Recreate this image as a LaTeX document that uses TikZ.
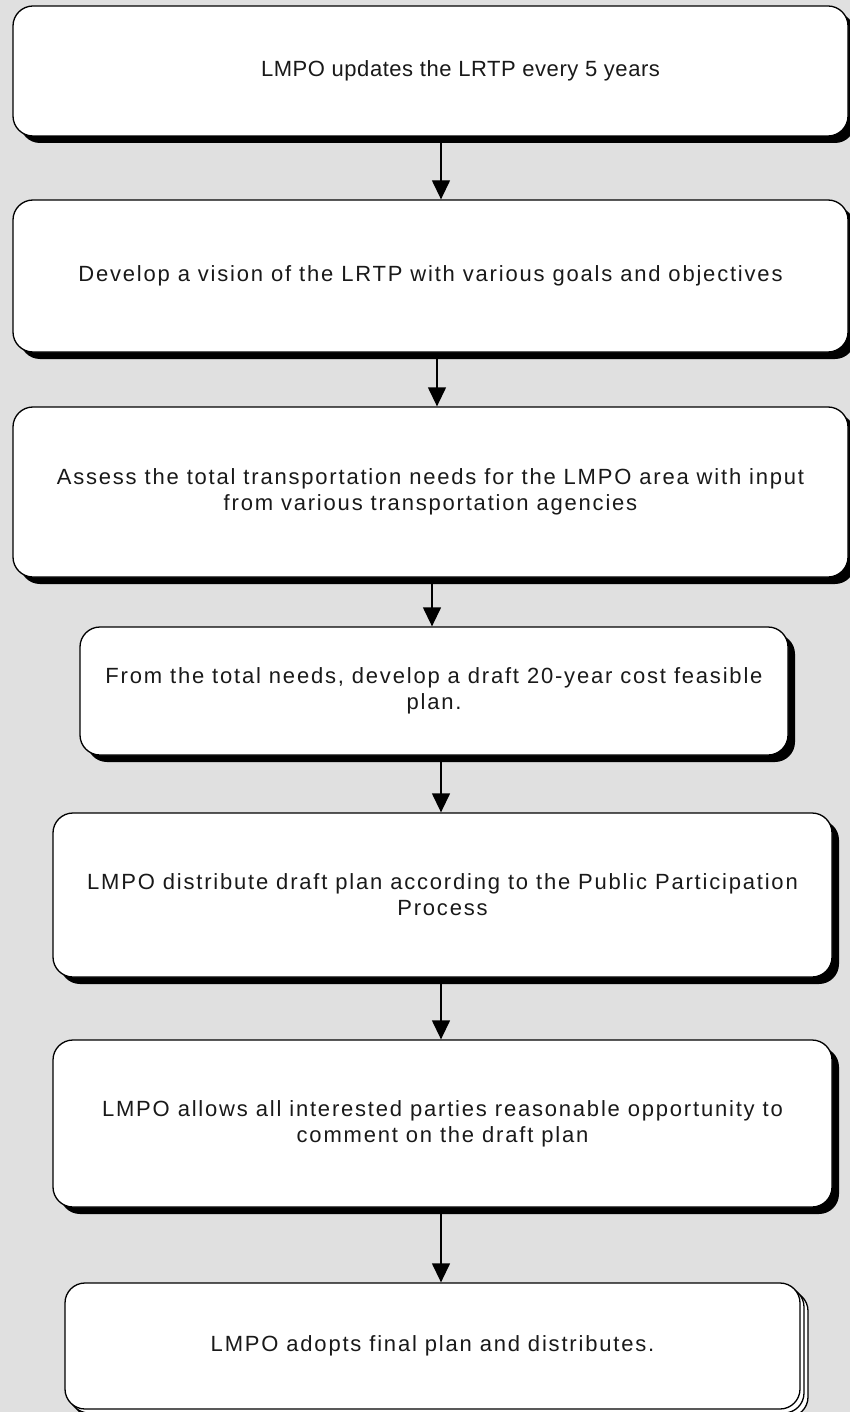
\documentclass[tikz,border=0pt]{standalone}
\usepackage{fontspec}
\setmainfont{Liberation Sans}
\newfontfamily\boxfont{Liberation Sans}[LetterSpace=8.2]
\newfontfamily\topfont{Liberation Sans}[LetterSpace=2.5]
\usetikzlibrary{shadows,arrows.meta}
\definecolor{bg}{RGB}{224,224,224}
\begin{document}
\begin{tikzpicture}[x=1pt,y=-1pt,
  box/.style={draw=black, line width=1.3pt, fill=white, rounded corners=20pt,
    inner sep=0pt, align=center, font=\boxfont\fontsize{22}{26}\selectfont, text=black!90},
  shad/.style={general shadow={shadow xshift=7pt, shadow yshift=-7pt, fill=black}},
  stack/.style={double copy shadow={shadow xshift=4pt, shadow yshift=-4pt}},
  arr/.style={line width=1.3pt, -{Triangle[length=19pt,width=18pt]}}]
\useasboundingbox (0,0) rectangle (850,1412);
\fill[bg] (0,0) rectangle (850,1412);
\node[box,shad,minimum width=835pt,minimum height=130pt,font=\topfont\fontsize{22}{26}\selectfont] (b1) at (430.5,71)
  {\hspace*{60pt}LMPO updates the LRTP every 5 years};
\node[box,shad,minimum width=835pt,minimum height=152pt] (b2) at (430.5,276)
  {Develop a vision of the LRTP with various goals and objectives};
\node[box,shad,minimum width=835pt,minimum height=170pt] (b3) at (430.5,492)
  {Assess the total transportation needs for the LMPO area with input\\from various transportation agencies};
\node[box,shad,minimum width=708pt,minimum height=128pt] (b4) at (434,691)
  {From the total needs, develop a draft 20-year cost feasible\\plan.};
\node[box,shad,minimum width=779pt,minimum height=164pt] (b5) at (442.5,895)
  {LMPO distribute draft plan according to the Public Participation\\Process};
\node[box,shad,minimum width=779pt,minimum height=167pt] (b6) at (442.5,1123.5)
  {LMPO allows all interested parties reasonable opportunity to\\comment on the draft plan};
\node[box,stack,minimum width=735pt,minimum height=126pt] (b7) at (432.5,1346)
  {LMPO adopts final plan and distributes.};
\draw[arr] (b1.south -| 441,0) -- (b2.north -| 441,0);
\draw[arr] (b2.south -| 437,0) -- (b3.north -| 437,0);
\draw[arr] (b3.south -| 432,0) -- (b4.north -| 432,0);
\draw[arr] (b4.south -| 441,0) -- (b5.north -| 441,0);
\draw[arr] (b5.south -| 441,0) -- (b6.north -| 441,0);
\draw[arr] (b6.south -| 441,0) -- (b7.north -| 441,0);
\end{tikzpicture}
\end{document}
